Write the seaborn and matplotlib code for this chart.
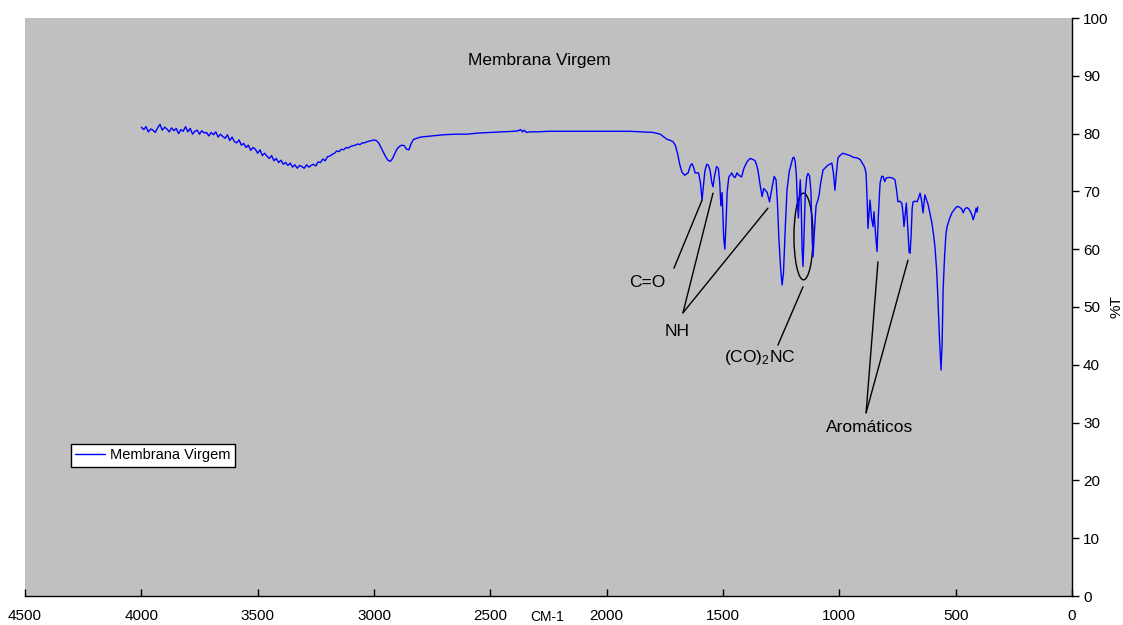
import numpy as np
import pandas as pd
import matplotlib
matplotlib.use("Agg")
import matplotlib.pyplot as plt
from matplotlib.patches import Ellipse
import seaborn as sns

# FTIR spectrum of the pristine membrane, wavenumber (cm-1) vs transmittance (%T)
# O-H / N-H stretching region
wn_high = [
    4000, 3990, 3980, 3970, 3960, 3950, 3940, 3930, 3920, 3910,
    3900, 3890, 3880, 3870, 3860, 3850, 3840, 3830, 3820, 3810,
    3800, 3790, 3780, 3770, 3760, 3750, 3740, 3730, 3720, 3710,
    3700, 3690, 3680, 3670, 3660, 3650, 3640, 3630, 3620, 3610,
    3600, 3590, 3580, 3570, 3560, 3550, 3540, 3530, 3520, 3510,
    3500, 3490, 3480, 3470, 3460, 3450, 3440, 3430, 3420, 3410,
    3400, 3390, 3380, 3370, 3360, 3350, 3340, 3330, 3320, 3310,
    3300, 3290, 3280, 3270, 3260, 3250, 3240, 3230, 3220, 3210,
    3200, 3190, 3180, 3170, 3160, 3150, 3140, 3130, 3120, 3110,
    3100, 3090, 3080, 3070, 3060, 3050, 3040, 3030, 3020, 3010,
    3000,
]
t_high = [
    81.1, 80.7, 81.2, 80.3, 80.8, 80.6, 80.2, 81.0, 81.6, 80.6,
    81.1, 80.8, 80.3, 81.0, 80.5, 80.9, 80.0, 80.7, 80.4, 81.2,
    80.3, 80.9, 79.9, 80.4, 80.6, 79.9, 80.5, 80.1, 80.2, 79.6,
    80.2, 79.8, 80.3, 79.4, 79.9, 79.5, 79.2, 79.8, 78.8, 79.4,
    78.6, 78.4, 78.9, 78.0, 78.3, 77.6, 78.0, 77.1, 77.6, 77.3,
    76.6, 77.2, 76.2, 76.6, 76.1, 75.7, 76.2, 75.3, 75.7, 75.0,
    75.4, 74.7, 75.0, 74.5, 74.9, 74.2, 74.6, 74.0, 74.5, 74.3,
    74.0, 74.6, 74.2, 74.5, 74.7, 74.4, 75.1, 75.0, 75.6, 75.3,
    76.0, 76.1, 76.4, 76.6, 77.0, 76.9, 77.3, 77.2, 77.6, 77.5,
    77.8, 77.9, 78.0, 78.2, 78.1, 78.4, 78.4, 78.6, 78.7, 78.8,
    78.9,
]

# C-H stretching and the flat region up to the carbonyl band
wn_mid = [
    2990, 2980, 2970, 2960, 2950, 2940, 2930, 2920, 2910, 2900,
    2890, 2880, 2870, 2860, 2850, 2840, 2830, 2800, 2750, 2700,
    2650, 2600, 2550, 2500, 2450, 2400, 2380, 2370, 2362, 2355,
    2345, 2330, 2300, 2250, 2200, 2100, 2000, 1900, 1850, 1800,
]
t_mid = [
    78.8, 78.4, 77.6, 76.8, 76.0, 75.4, 75.2, 75.7, 76.6, 77.4,
    77.8, 78.0, 77.9, 77.3, 77.2, 78.3, 79.0, 79.4, 79.6, 79.8,
    79.9, 79.9, 80.1, 80.2, 80.3, 80.4, 80.5, 80.7, 80.3, 80.6,
    80.2, 80.3, 80.3, 80.4, 80.4, 80.4, 80.4, 80.4, 80.3, 80.2,
]

# Fingerprint region
wn_fp = [
    1770, 1750, 1740, 1725, 1715, 1705, 1695, 1685, 1676, 1665,
    1650, 1640, 1633, 1625, 1620, 1605, 1597, 1590, 1584, 1578,
    1570, 1562, 1555, 1548, 1543, 1537, 1528, 1520, 1514, 1509,
    1504, 1497, 1492, 1487, 1482, 1475, 1462, 1455, 1448, 1440,
    1432, 1420, 1410, 1397, 1384, 1370, 1362, 1355, 1350, 1340,
    1332, 1325, 1318, 1310, 1300, 1290, 1280, 1272, 1266, 1260,
    1252, 1246, 1240, 1232, 1225, 1215, 1208, 1200, 1195, 1190,
    1185, 1180, 1176, 1172, 1168, 1164, 1160, 1156, 1152, 1146,
    1140, 1135, 1128, 1122, 1117, 1113, 1108, 1100, 1092, 1087,
    1080, 1070, 1050, 1032, 1025, 1019, 1013, 1006, 995, 984,
    970, 954, 940, 924, 910, 903, 895, 890, 885, 880,
    877, 872, 868, 862, 855, 851, 845, 838, 832, 825,
    818, 812, 805, 799, 791, 780, 770, 761, 755, 748,
    740, 731, 726, 722, 717, 712, 705, 700, 696, 692,
    687, 683, 675, 666, 660, 653, 647, 640, 635, 632,
    625, 619, 612, 602, 595, 589, 582, 576, 570, 563,
    558, 554, 548, 542, 537, 527, 516, 505, 494, 484,
    473, 468, 460, 451, 444, 438, 430, 425, 418, 412,
    408, 405,
]
t_fp = [
    79.9, 79.3, 79.0, 78.8, 78.6, 78.0, 76.5, 74.5, 73.3, 72.8,
    73.2, 74.5, 74.8, 74.0, 73.2, 73.2, 71.5, 68.5, 71.0, 73.5,
    74.7, 74.5, 73.5, 71.5, 70.8, 72.5, 74.3, 74.0, 71.5, 67.5,
    69.8, 62.0, 60.0, 64.5, 70.0, 72.5, 73.2, 72.6, 72.4, 73.2,
    72.8, 72.5, 74.0, 75.1, 75.7, 75.5, 75.3, 74.5, 73.7, 71.0,
    69.1, 70.5, 70.2, 69.8, 68.2, 70.5, 72.6, 72.0, 68.0, 62.0,
    56.5, 53.8, 56.0, 64.0, 70.2, 73.5, 74.6, 75.8, 75.9, 75.2,
    73.0, 68.0, 65.4, 69.0, 72.0, 68.0, 60.0, 57.0, 62.0, 70.0,
    72.5, 73.1, 72.7, 70.0, 62.0, 58.7, 62.5, 67.5, 68.5, 69.4,
    71.5, 73.7, 74.5, 74.9, 73.0, 70.2, 73.0, 75.8, 76.3, 76.6,
    76.4, 76.2, 75.9, 75.8, 75.5, 75.0, 74.5, 74.0, 73.1, 68.0,
    63.6, 66.5, 68.5, 65.5, 63.9, 66.5, 63.0, 59.6, 66.0, 71.4,
    72.6, 72.6, 71.7, 72.3, 72.4, 72.4, 72.3, 72.0, 70.5, 68.2,
    68.3, 67.9, 66.0, 63.9, 66.0, 68.0, 63.0, 59.5, 59.3, 62.0,
    67.0, 68.2, 68.3, 68.2, 68.8, 69.7, 68.5, 66.3, 68.5, 69.4,
    68.5, 67.8, 66.5, 64.5, 62.5, 60.4, 56.5, 51.2, 45.0, 39.1,
    44.0, 52.9, 58.5, 62.5, 63.9, 65.2, 66.3, 66.9, 67.4, 67.3,
    66.9, 66.3, 67.0, 67.2, 67.0, 66.6, 65.9, 65.1, 66.0, 67.1,
    66.4, 67.3,
]

x_ticks = [4500, 4000, 3500, 3000, 2500, 2000, 1500, 1000, 500, 0]
y_ticks = [0, 10, 20, 30, 40, 50, 60, 70, 80, 90, 100]
series_name = "Membrana Virgem"

df = pd.DataFrame({
    "wavenumber": wn_high + wn_mid + wn_fp,
    "T": t_high + t_mid + t_fp,
})
df["amostra"] = series_name

sns.set_style("white", {"axes.facecolor": "#C0C0C0"})
plt.rcParams["font.family"] = ["Liberation Sans", "DejaVu Sans"]
plt.rcParams.update({
    "text.color": "black",
    "axes.labelcolor": "black",
    "xtick.color": "black",
    "ytick.color": "black",
    "mathtext.fontset": "custom",
    "mathtext.rm": "Liberation Sans",
    "mathtext.it": "Liberation Sans:italic",
    "mathtext.bf": "Liberation Sans:bold",
})

fig = plt.figure(figsize=(11.23, 6.25), dpi=100)
ax = fig.add_axes([25 / 1123, 29 / 625, 1047 / 1123, 578 / 625])

sns.lineplot(data=df, x="wavenumber", y="T", hue="amostra", palette=["#0000FF"],
             estimator=None, sort=False, linewidth=1.0, ax=ax)

ax.set_xlim(4500, 0)
ax.set_ylim(0, 100)
ax.set_xticks(x_ticks)
ax.set_yticks(y_ticks)

for side in ("top", "left"):
    ax.spines[side].set_visible(False)
for side in ("bottom", "right"):
    ax.spines[side].set_visible(True)
    ax.spines[side].set_color("black")
    ax.spines[side].set_linewidth(1.0)

ax.yaxis.tick_right()
ax.yaxis.set_label_position("right")
ax.tick_params(axis="x", direction="in", length=5, width=1, color="black",
               labelsize=11, pad=9, bottom=True, labelcolor="black")
ax.tick_params(axis="y", direction="out", length=5, width=1, color="black",
               labelsize=11, pad=3, right=True, left=False, labelcolor="black")

ax.set_xlabel("CM-1", fontsize=10)
ax.xaxis.set_label_coords(0.4986, -0.036)
ax.xaxis.label.set_va("center")
ax.set_ylabel("%T", fontsize=11)
ax.yaxis.set_label_coords(1.036, 0.5)

# Title inside the plotting area
ax.text(2288, 92.6, series_name, fontsize=12.5, ha="center", va="center")

# Band assignments
lw = 1.0
ax.text(1827, 54.3, "C=O", fontsize=12.5, ha="center", va="center")
ax.plot([1711, 1590], [56.7, 68.5], color="black", lw=lw)

ax.text(1698, 45.8, "NH", fontsize=12.5, ha="center", va="center")
ax.plot([1672, 1543], [49.0, 69.7], color="black", lw=lw)
ax.plot([1672, 1307], [49.0, 67.1], color="black", lw=lw)

ax.text(1341, 41.2, "(CO)$_2$NC", fontsize=12.5, ha="center", va="center")
ax.plot([1264, 1156], [43.4, 53.5], color="black", lw=lw)
ax.add_patch(Ellipse((1154, 62.2), width=82, height=15.0, fill=False,
                     edgecolor="black", lw=lw))

ax.text(868, 29.1, "Aromáticos", fontsize=12.5, ha="center", va="center")
ax.plot([885, 834], [31.7, 57.8], color="black", lw=lw)
ax.plot([885, 705], [31.7, 58.1], color="black", lw=lw)

leg = ax.legend(loc="upper left", bbox_to_anchor=(0.0439, 0.263), borderaxespad=0,
                fontsize=10.5, frameon=True, fancybox=False, framealpha=1,
                edgecolor="black", facecolor="white", handlelength=2.0,
                handletextpad=0.4, borderpad=0.3)
leg.get_frame().set_linewidth(1.0)
for line in leg.get_lines():
    line.set_linewidth(1.0)
for txt in leg.get_texts():
    txt.set_color("black")

fig.savefig("out.png", dpi=100, facecolor="white")
